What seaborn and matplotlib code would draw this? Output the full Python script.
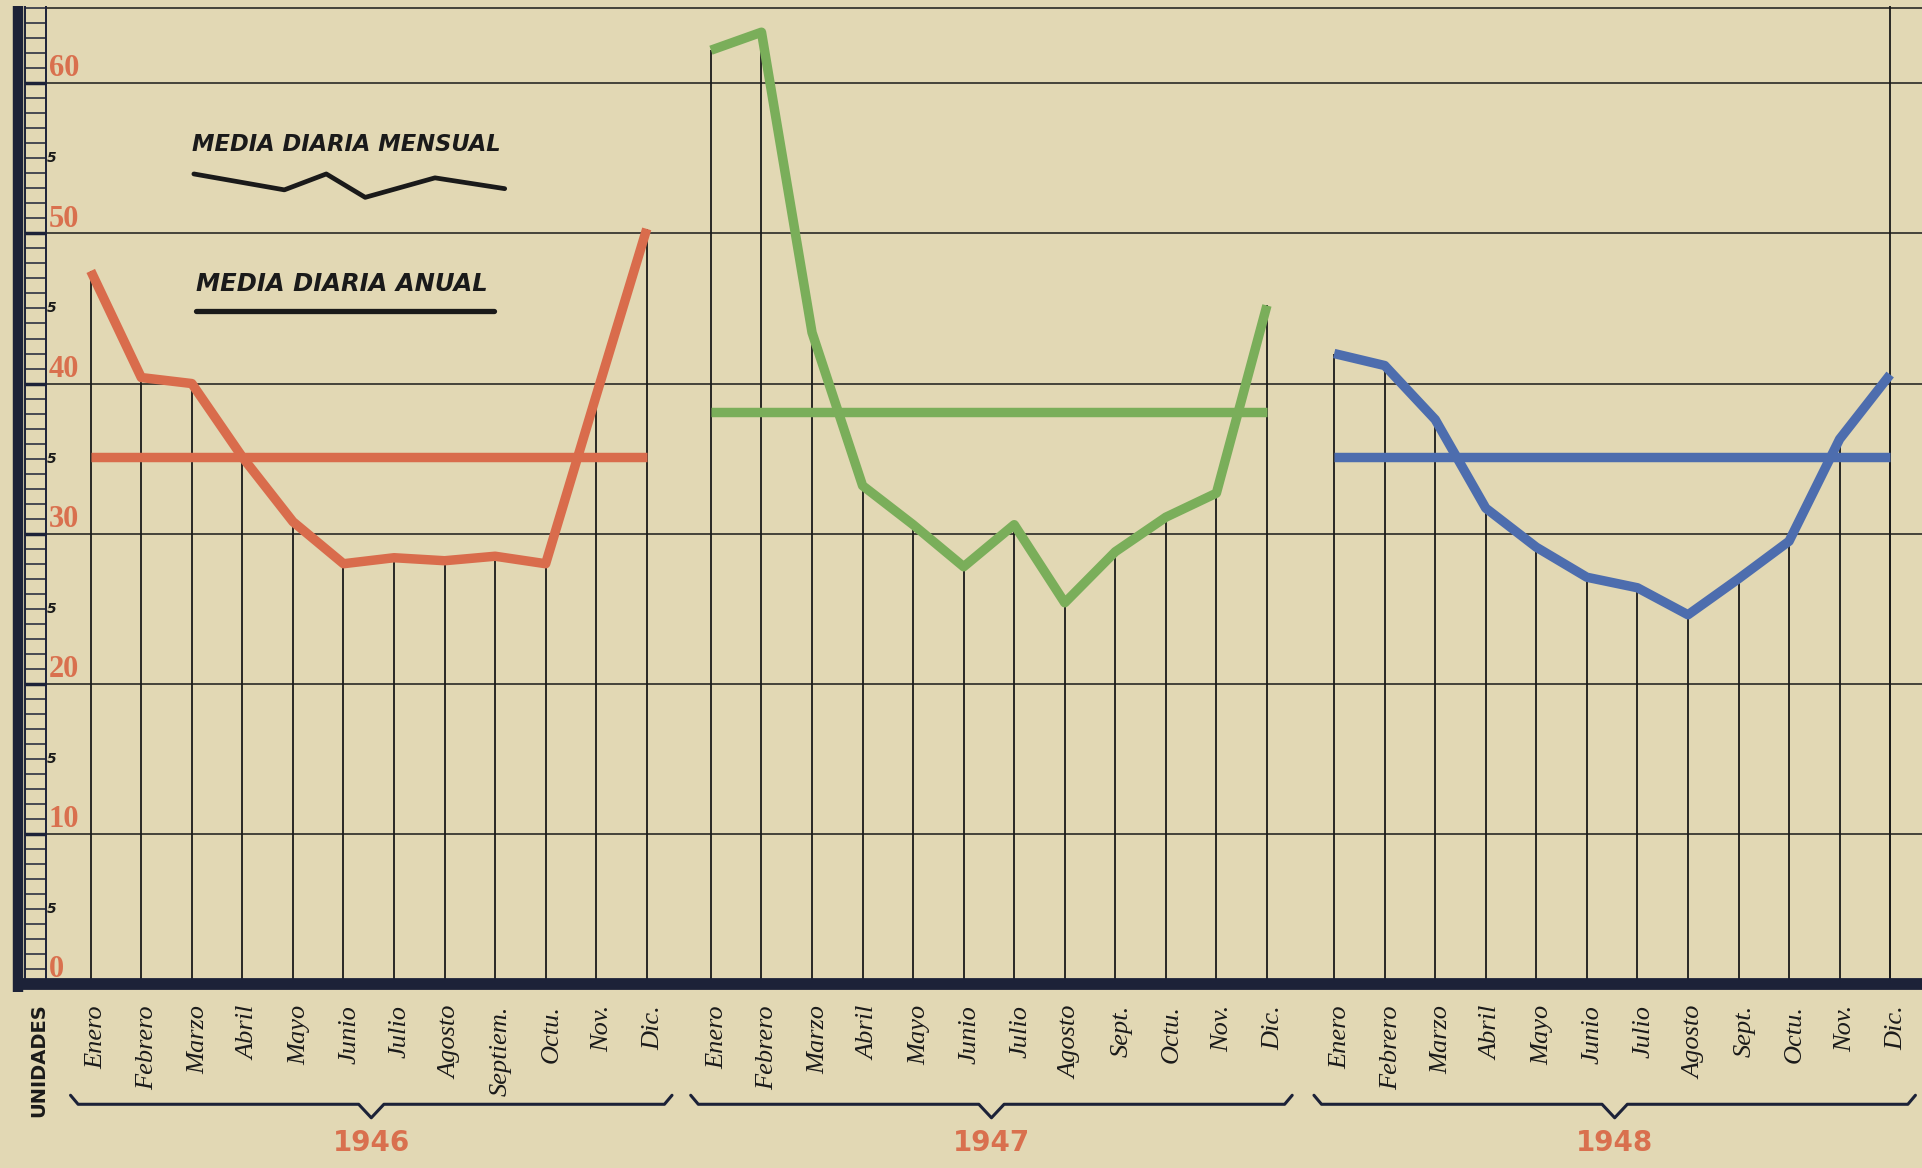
import numpy as np
import pandas as pd
import seaborn as sns
import matplotlib.pyplot as plt

# month labels as printed under each year
months_1946 = ['Enero', 'Febrero', 'Marzo', 'Abril', 'Mayo', 'Junio', 'Julio',
               'Agosto', 'Septiem.', 'Octu.', 'Nov.', 'Dic.']
months_1947 = ['Enero', 'Febrero', 'Marzo', 'Abril', 'Mayo', 'Junio', 'Julio',
               'Agosto', 'Sept.', 'Octu.', 'Nov.', 'Dic.']
months_1948 = ['Enero', 'Febrero', 'Marzo', 'Abril', 'Mayo', 'Junio', 'Julio',
               'Agosto', 'Sept.', 'Octu.', 'Nov.', 'Dic.']
years = ['1946', '1947', '1948']

# media diaria mensual (unidades)
vals_1946 = [47.5, 40.4, 40.0, 35.1, 30.8, 28.0, 28.4, 28.2, 28.5, 28.0, 39.2, 50.3]
vals_1947 = [62.2, 63.4, 43.4, 33.2, 30.6, 27.8, 30.6, 25.4, 28.8, 31.1, 32.7, 45.2]
vals_1948 = [42.0, 41.2, 37.6, 31.7, 29.1, 27.1, 26.4, 24.6, 27.0, 29.5, 36.3, 40.6]

# media diaria anual
annual = [35.1, 38.1, 35.1]

# y scale labels
major_ticks = [0, 10, 20, 30, 40, 50, 60]
minor_ticks = [5, 15, 25, 35, 45, 55]

# hand drawn zigzag of the legend key
key_x = [2.04, 3.83, 4.66, 5.43, 6.81, 8.19]
key_y = [53.96, 52.9, 53.96, 52.4, 53.7, 52.98]

# colours / layout
bg = '#E2D8B4'
navy = '#1C2238'
ink = '#1a1a1a'
orange = '#D9704E'
colors = ['#D96C4C', '#7AAE5A', '#4D6DAE']
year_start = [0, 12.27, 24.6]
x_left, x_right = -1.552, 36.23
y_top = 65.14
ladder_l, ladder_r = -1.31, -0.885

#build long table for seaborn
rows = []
for yr, start, months, vals in zip(years, year_start,
                                   [months_1946, months_1947, months_1948],
                                   [vals_1946, vals_1947, vals_1948]):
    for i, (m, v) in enumerate(zip(months, vals)):
        rows.append({'year': yr, 'x': start + i, 'month': m, 'value': v})
df = pd.DataFrame(rows)

sns.set_theme(style='white')

fig = plt.figure(figsize=(19.22, 11.68), dpi=100, facecolor=bg)
ax = fig.add_axes([0.0064, 0.1574, 0.9936, 0.8374])
ax.set_facecolor(bg)
ax.set_xlim(x_left, x_right)
ax.set_ylim(0, y_top)
ax.set_xticks([])
ax.set_yticks([])
for s in ax.spines.values():
    s.set_visible(False)

#grid: horizontal lines and top border
ax.hlines(major_ticks[1:], ladder_r, x_right, colors=ink, lw=1.1, zorder=1)
ax.hlines(y_top - 0.1, ladder_r, x_right, colors=ink, lw=1.1, zorder=1, clip_on=False)

#vertical month lines up to the curve, plus right border
ax.vlines(df['x'], 0, df['value'], colors=ink, lw=1.3, zorder=1)
ax.vlines(df['x'].iloc[-1], 0, y_top, colors=ink, lw=1.3, zorder=1)

#ruler on the left
ax.vlines(-1.43, -0.5, y_top, colors=navy, lw=7.5, clip_on=False, zorder=4)
ax.vlines([ladder_l, ladder_r], 0, y_top, colors=navy, lw=1.4, clip_on=False, zorder=4)
ax.hlines(np.arange(0, 66), ladder_l, ladder_r, colors=navy, lw=1.1, zorder=4)
ax.hlines(major_ticks, ladder_l, ladder_r, colors=navy, lw=2.5, zorder=4)

#bottom axis
ax.hlines(0, -1.45, x_right, colors=navy, lw=8.5, clip_on=False, zorder=5)

#monthly means
sns.lineplot(data=df, x='x', y='value', hue='year', palette=colors,
             estimator=None, sort=False, lw=6.8, legend=False, ax=ax,
             zorder=3, solid_capstyle='butt')

#annual means
for start, a, c in zip(year_start, annual, colors):
    ax.plot([start, start + 11], [a, a], color=c, lw=6.8,
            solid_capstyle='butt', zorder=3)

#y labels
for t in major_ticks:
    ax.text(-0.83, t + 0.95, str(t), color=orange, fontsize=22,
            family='Liberation Serif', weight='bold', va='center', ha='left')
for t in minor_ticks:
    ax.text(-0.86, t, '5', color=ink, fontsize=10, style='italic',
            weight='bold', va='center', ha='left')

#month labels
for x, m in zip(df['x'], df['month']):
    ax.text(x + 0.12, -1.4, m, rotation=90, va='top', ha='center',
            family='Liberation Serif', style='italic', fontsize=19, color=ink)

ax.text(-1.02, -1.3, 'UNIDADES', rotation=90, va='top', ha='center',
        family='DejaVu Sans', weight='bold', fontsize=14, color=ink)

#braces + year labels
def draw_brace(x0, x1, y, depth=0.9, hook=0.6):
    mid = (x0 + x1) / 2
    bx = [x0, x0 + 0.15, mid - 0.25, mid, mid + 0.25, x1 - 0.15, x1]
    by = [y + hook, y, y, y - depth, y, y, y + hook]
    ax.plot(bx, by, color=navy, lw=2.2, clip_on=False, solid_joinstyle='round')
    return mid

for start, yr in zip(year_start, years):
    mid = draw_brace(start - 0.4, start + 11.5, -8.0)
    ax.text(mid, -10.6, yr, color=orange, fontsize=20, weight='bold',
            family='DejaVu Sans', ha='center', va='center')

#legend
ax.text(2.0, 55.9, 'MEDIA DIARIA MENSUAL', fontsize=16.3, weight='bold',
        style='italic', family='DejaVu Sans', color=ink, va='center', ha='left')
ax.plot(key_x, key_y, color=ink, lw=3.4, zorder=3)
ax.text(2.09, 46.6, 'MEDIA DIARIA ANUAL', fontsize=17.5, weight='bold',
        style='italic', family='DejaVu Sans', color=ink, va='center', ha='left')
ax.plot([2.09, 7.98], [44.8, 44.8], color=ink, lw=3.8, zorder=3)

fig.savefig('out.png', dpi=100, facecolor=bg)
